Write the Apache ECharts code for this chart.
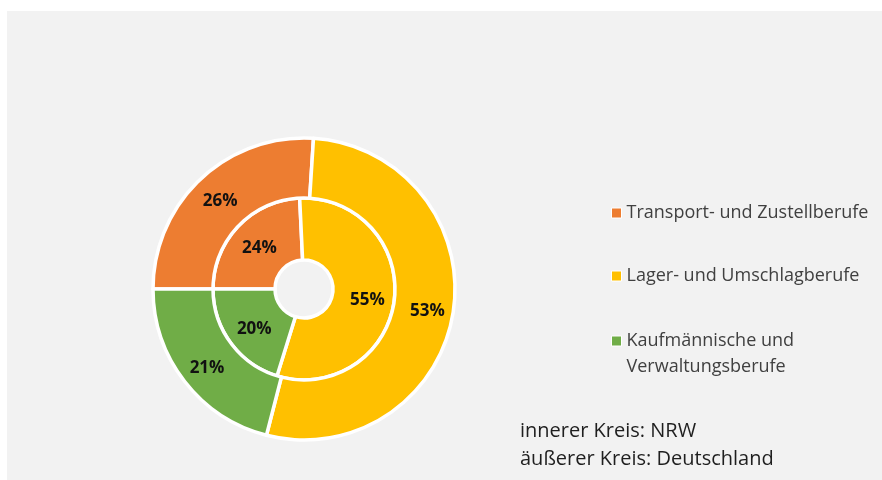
<!DOCTYPE html>
<html>
<head>
<meta charset="utf-8">
<script src="https://cdn.jsdelivr.net/npm/echarts@6/dist/echarts.min.js"></script>
<style>
html,body{margin:0;padding:0;background:#ffffff;}
#chart{width:882px;height:480px;}
</style>
</head>
<body>
<div id="chart"></div>
<script>
const categories = ['Transport- und Zustellberufe', 'Lager- und Umschlagberufe', 'Kaufmännische und Verwaltungsberufe'];
const innerNRW = [24, 55, 20];
const outerDeutschland = [26, 53, 21];
const colors = ['#ED7D31', '#FFC000', '#70AD47'];
const noteLines = ['innerer Kreis: NRW', 'äußerer Kreis: Deutschland'];

const FONT = '"Open Sans", "Noto Sans", sans-serif';

function makeData(vals) {
  return categories.map((c, i) => ({ name: c, value: vals[i], itemStyle: { color: colors[i] } }));
}

const labelStyle = {
  show: true,
  position: 'inside',
  formatter: '{c}%',
  color: '#111111',
  fontWeight: 'bold',
  fontSize: 17,
  fontFamily: FONT,
  offset: [1, 3]
};

const pieCommon = {
  type: 'pie',
  center: [304, 289],
  startAngle: 180,
  clockwise: true,
  silent: true,
  avoidLabelOverlap: false,
  labelLine: { show: false },
  itemStyle: { borderColor: '#ffffff', borderWidth: 3.5 },
  emphasis: { disabled: true },
  animation: false
};

const legendTops = [200, 263, 302];
const legends = categories.map((c, i) => ({
  data: [c],
  orient: 'vertical',
  left: 611,
  top: legendTops[i],
  padding: 0,
  icon: 'rect',
  itemWidth: 10,
  itemHeight: 10,
  itemStyle: { borderColor: '#ffffff', borderWidth: 1 },
  selectedMode: false,
  formatter: function (name) {
    if (name === 'Kaufmännische und Verwaltungsberufe') return '\nKaufmännische und\nVerwaltungsberufe';
    return name;
  },
  textStyle: { color: '#404040', fontSize: 18, fontFamily: FONT, lineHeight: 26 }
}));

const chart = echarts.init(document.getElementById('chart'), null, { renderer: 'canvas' });
chart.setOption({
  animation: false,
  color: colors,
  legend: legends,
  graphic: [
    { type: 'rect', z: -10, silent: true, shape: { x: 7, y: 11, width: 875, height: 469 }, style: { fill: '#f2f2f2' } },
    { type: 'text', left: 520, top: 417, silent: true,
      style: { text: noteLines.join('\n'), fill: '#1f1f1f', font: '20px ' + FONT, lineHeight: 28 } }
  ],
  series: [
    Object.assign({}, pieCommon, { name: 'NRW', radius: [29, 91], data: makeData(innerNRW), label: labelStyle }),
    Object.assign({}, pieCommon, { name: 'Deutschland', radius: [91, 151], data: makeData(outerDeutschland), label: labelStyle })
  ]
});
</script>
</body>
</html>
